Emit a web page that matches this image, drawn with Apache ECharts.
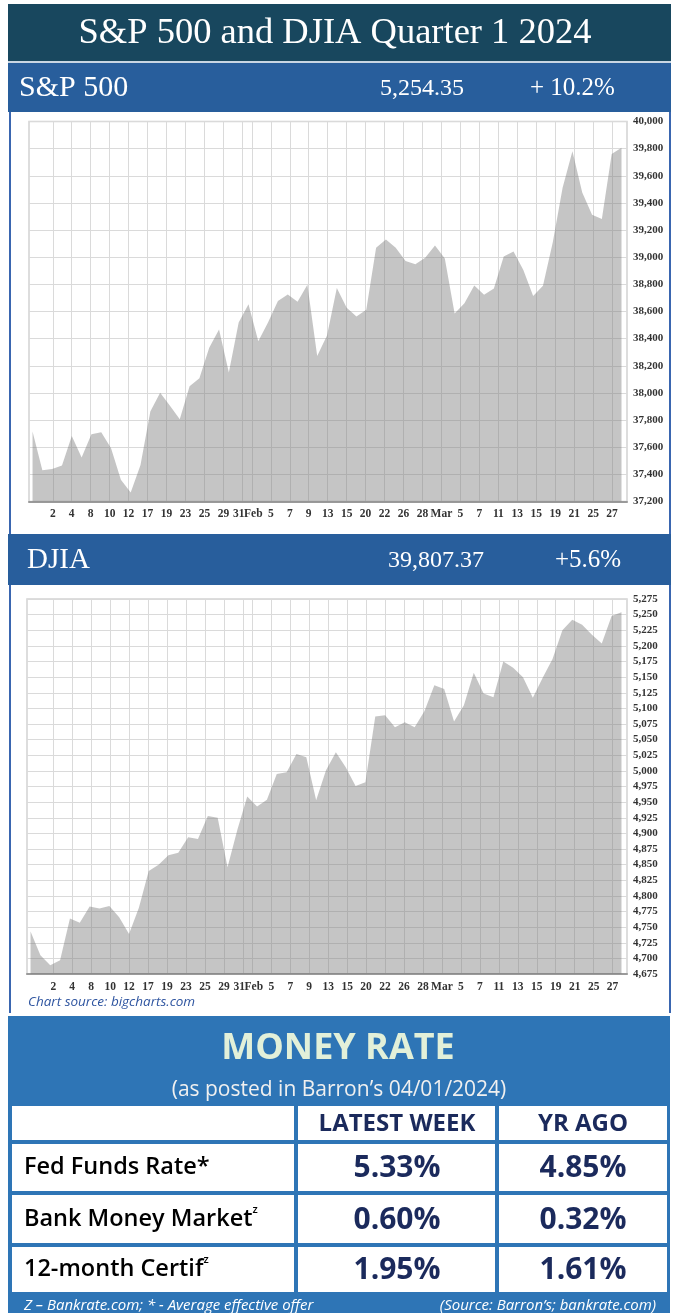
<!DOCTYPE html>
<html>
<head>
<meta charset="utf-8">
<title>S&amp;P 500 and DJIA Quarter 1 2024</title>
<script src="https://cdn.jsdelivr.net/npm/echarts@6.0.0/dist/echarts.min.js"></script>
<style>
  html, body { margin: 0; padding: 0; background: #fff; }
  #main { width: 673px; height: 1313px; }
</style>
</head>
<body>
<div id="main"></div>
<script>
// daily closes, Jan 2 - Mar 28 2024 (upper panel, captioned "S&P 500" in the original)
var upperValues = [
    37715, 37430, 37440, 37466, 37683, 37525, 37696, 37711, 37593, 37361,
    37267, 37469, 37864, 38001, 37906, 37806, 38049, 38109, 38333, 38467,
    38150, 38519, 38654, 38380, 38521, 38677, 38726, 38671, 38797, 38273,
    38424, 38773, 38628, 38564, 38612, 39069, 39131, 39069, 38972, 38949,
    38996, 39087, 38990, 38585, 38661, 38791, 38723, 38770, 39005, 39043,
    38906, 38715, 38790, 39111, 39512, 39781, 39476, 39313, 39282, 39760,
    39807
];
// lower panel (captioned "DJIA" in the original)
var lowerValues = [
    4743, 4705, 4689, 4697, 4764, 4757, 4783, 4780, 4784, 4766,
    4739, 4781, 4840, 4850, 4865, 4869, 4894, 4891, 4928, 4925,
    4846, 4906, 4959, 4943, 4954, 4995, 4998, 5027, 5022, 4953,
    5001, 5030, 5006, 4976, 4982, 5087, 5089, 5070, 5078, 5070,
    5096, 5137, 5131, 5079, 5105, 5157, 5124, 5118, 5175, 5165,
    5150, 5117, 5149, 5179, 5225, 5242, 5234, 5218, 5204, 5248,
    5254
];
// date ticks under both charts (blank = no label)
var tickLabels = ['', '', '2', '', '4', '', '8', '', '10', '', '12', '', '17', '', '19', '', '23', '', '25', '', '29', '',
    '31', 'Feb', '', '5', '', '7', '', '9', '', '13', '', '15', '', '20', '', '22', '', '26', '', '28', '',
    'Mar', '', '5', '', '7', '', '11', '', '13', '', '15', '', '19', '', '21', '', '25', '', '27', ''];

var panelNames = ['S&P 500', 'DJIA'];
var panelLevels = ['5,254.35', '39,807.37'];
var panelChanges = ['+ 10.2%', '+5.6%'];

var rateNames = ['Fed Funds Rate*', 'Bank Money Market', '12-month Certif'];
var rateSup = ['', 'z', 'z'];
var latestWeek = ['5.33%', '0.60%', '1.95%'];
var yrAgo = ['4.85%', '0.32%', '1.61%'];

var myChart = echarts.init(document.getElementById('main'));

var SERIF = '"Liberation Serif", "Times New Roman", serif';
var SANS = '"Open Sans", "Noto Sans", sans-serif';
var navy = '#1B2A5C';

function comma(v) {
    return String(v).replace(/\B(?=(\d{3})+(?!\d))/g, ',');
}
function box(x, y, w, h, fill) {
    return { type: 'rect', shape: { x: x, y: y, width: w, height: h }, style: { fill: fill }, silent: true };
}
function txt(t, x, y, font, fill, align, extra) {
    var st = { text: t, x: x, y: y, font: font, fill: fill, textAlign: align || 'left', textVerticalAlign: 'middle' };
    for (var k in extra) st[k] = extra[k];
    return { type: 'text', style: st, silent: true };
}

var g = [];
// banners
g.push(box(8, 4, 663, 57, '#18475E'));
g.push(box(8, 61, 663, 2, '#C9D6E4'));
g.push(txt('S&P 500 and DJIA Quarter 1 2024', 335, 33, '36.5px ' + SERIF, '#ffffff', 'center'));

var barTop = [63, 534];
for (var i = 0; i < 2; i++) {
    var by = barTop[i], bh = i == 0 ? 49 : 51;
    g.push(box(8, by, 663, bh, '#285E9C'));
    g.push(txt(panelNames[i], i == 0 ? 19 : 27, by + bh / 2 + 1, (i == 0 ? 30 : 29) + 'px ' + SERIF, '#ffffff'));
    g.push(txt(panelLevels[i], i == 0 ? 380 : 388, by + bh / 2 + 1, '24px ' + SERIF, '#ffffff'));
    g.push(txt(panelChanges[i], i == 0 ? 530 : 555, by + bh / 2 + 1, '25px ' + SERIF, '#ffffff'));
}
// panel side borders
g.push(box(9, 112, 2, 422, '#3A66B0'));
g.push(box(669, 112, 2, 422, '#3A66B0'));
g.push(box(9, 585, 2, 428, '#3A66B0'));
g.push(box(669, 585, 2, 428, '#3A66B0'));
g.push(txt('Chart source: bigcharts.com', 28, 1002, 'italic 13.5px ' + SANS, '#2F55A0'));

// money rate block
g.push(box(8, 1016, 662, 297, '#2E75B6'));
g.push(txt('MONEY RATE', 338, 1049, 'bold 36px ' + SANS, '#E2F0D9', 'center',
    { shadowColor: 'rgba(0,0,0,0.5)', shadowBlur: 3, shadowOffsetX: 2, shadowOffsetY: 2 }));
g.push(txt('(as posted in Barron\u2019s 04/01/2024)', 339, 1090, '21px ' + SANS, '#F0F0F0', 'center'));

var colX = [12, 298, 499];
var colW = [282, 197, 168];
var rowY = [1106, 1144, 1195, 1247];
var rowH = [34, 47, 48, 45];
for (var r = 0; r < 4; r++) {
    for (var c = 0; c < 3; c++) {
        g.push(box(colX[c], rowY[r], colW[c], rowH[r], '#ffffff'));
    }
}
g.push(txt('LATEST WEEK', 397, 1124, 'bold 24px ' + SANS, navy, 'center'));
g.push(txt('YR AGO', 583, 1124, 'bold 24px ' + SANS, navy, 'center'));
for (var r = 0; r < rateNames.length; r++) {
    var cy = rowY[r + 1] + rowH[r + 1] / 2;
    g.push({
        type: 'text', silent: true,
        style: {
            text: '{a|' + rateNames[r] + '}' + (rateSup[r] ? '{s|' + rateSup[r] + '}' : ''),
            x: 24, y: cy, textAlign: 'left', textVerticalAlign: 'middle',
            rich: {
                a: { fontFamily: SANS, fontSize: 23.5, fontWeight: 600, color: navy, lineHeight: 30 },
                s: { fontFamily: SANS, fontSize: 11, fontWeight: 600, color: navy, verticalAlign: 'top', lineHeight: 30 }
            }
        }
    });
    g.push(txt(latestWeek[r], 397, cy + 1, 'bold 30px ' + SANS, navy, 'center'));
    g.push(txt(yrAgo[r], 583, cy + 1, 'bold 30px ' + SANS, navy, 'center'));
}
g.push(txt('Z \u2013 Bankrate.com; * - Average effective offer', 24, 1306, 'italic 15px ' + SANS, '#ffffff'));
g.push(txt('(Source: Barron\u2019s; bankrate.com)', 656, 1306, 'italic 15px ' + SANS, '#ffffff', 'right'));

// charts: grids 0/2 carry the data, grids 1/3 only carry the date ticks
var axisFont = { fontFamily: SERIF, fontWeight: 'bold', fontSize: 11.5, color: '#333' };
var gridLine = { color: '#dadada', width: 1 };

function dataX(gi) {
    return {
        type: 'value', gridIndex: gi, min: -0.36, max: 60.56,
        axisLine: { show: true, onZero: false, lineStyle: { color: '#9a9a9a', width: 2 } },
        axisTick: { show: false }, axisLabel: { show: false }, splitLine: { show: false }
    };
}
function labelX(gi) {
    return {
        type: 'category', gridIndex: gi, boundaryGap: false, data: tickLabels,
        axisLine: { show: false }, axisTick: { show: false },
        axisLabel: Object.assign({
            interval: 0, margin: 7,
            // "31" and "Feb" sit on neighbouring days, nudge them apart
            formatter: function (val) {
                if (val === '31') return '{l|31}';
                if (val === 'Feb') return '{r|Feb}';
                return val;
            },
            rich: {
                l: Object.assign({ padding: [0, 7, 0, 0] }, axisFont),
                r: Object.assign({ padding: [0, 0, 0, 3] }, axisFont)
            }
        }, axisFont),
        splitLine: { show: true, interval: function (idx, val) { return val !== ''; }, lineStyle: gridLine }
    };
}
function dataY(gi, mn, mx, step) {
    return {
        type: 'value', gridIndex: gi, position: 'right', min: mn, max: mx, interval: step,
        axisLine: { show: false }, axisTick: { show: false },
        axisLabel: Object.assign({ margin: 6, formatter: comma }, axisFont, { fontSize: 11 }),
        splitLine: { show: true, lineStyle: gridLine }
    };
}
function hiddenY(gi) {
    return { type: 'value', gridIndex: gi, show: false, min: 0, max: 1 };
}
function areaSeries(xi, yi, vals) {
    return {
        type: 'line', xAxisIndex: xi, yAxisIndex: yi,
        data: vals.map(function (v, i) { return [i, v]; }),
        showSymbol: false, symbol: 'none', silent: true,
        lineStyle: { width: 0, opacity: 0 },
        areaStyle: { color: '#7a7a7a', opacity: 0.44, origin: 'start' }
    };
}

option = {
    animation: false,
    backgroundColor: '#ffffff',
    graphic: { elements: g },
    grid: [
        { left: 29, right: 46, top: 121.5, bottom: 811.5, show: true, borderColor: '#d2d2d2', borderWidth: 1.5 },
        { left: 33.8, right: 51.4, top: 121.5, bottom: 811.5 },
        { left: 27, right: 46, top: 599, bottom: 339, show: true, borderColor: '#d2d2d2', borderWidth: 1.5 },
        { left: 34.3, right: 50.9, top: 599, bottom: 339 }
    ],
    xAxis: [dataX(0), labelX(1), dataX(2), labelX(3)],
    yAxis: [dataY(0, 37200, 40000, 200), hiddenY(1), dataY(2, 4675, 5275, 25), hiddenY(3)],
    series: [
        areaSeries(0, 0, upperValues),
        areaSeries(2, 2, lowerValues)
    ]
};

myChart.setOption(option);
</script>
</body>
</html>
